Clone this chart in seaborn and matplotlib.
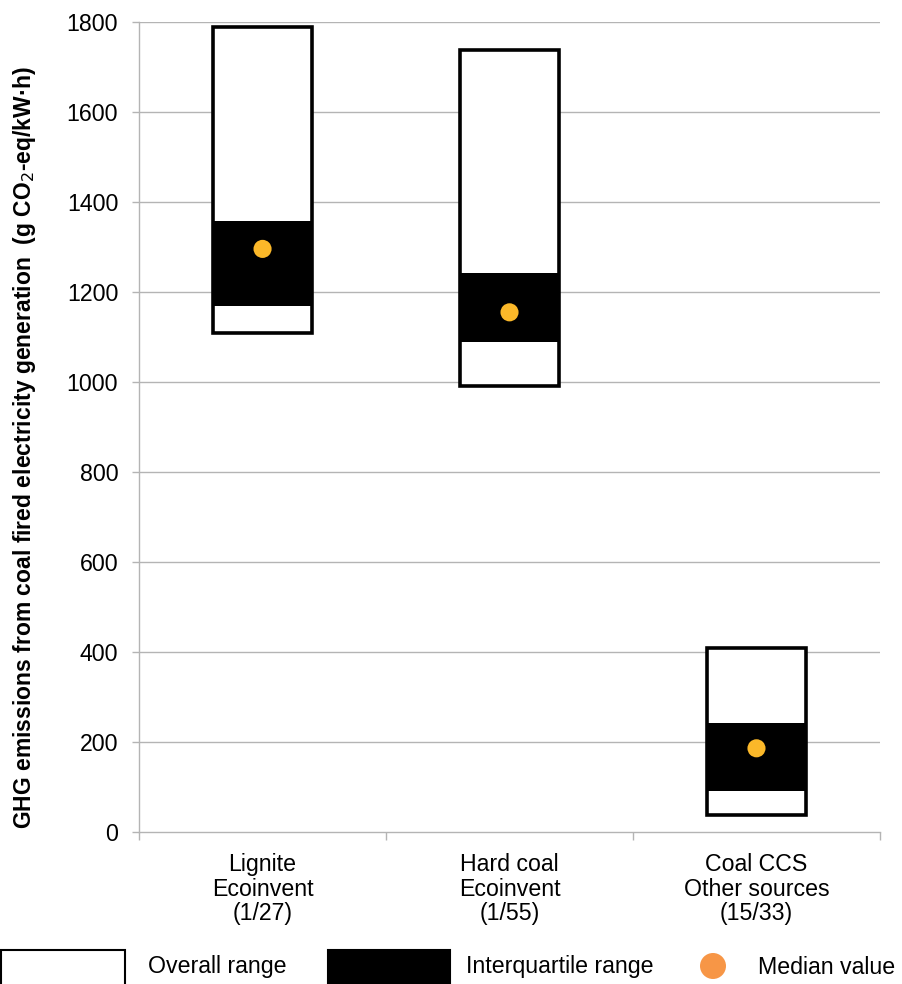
import matplotlib
matplotlib.use("Agg")
import matplotlib.pyplot as plt
import seaborn as sns
import pandas as pd
from matplotlib.patches import Rectangle, Ellipse

sns.set_style("white")
plt.rcParams['font.family'] = ['Liberation Sans', 'DejaVu Sans']
for k in ["text.color", "axes.labelcolor", "xtick.labelcolor", "ytick.labelcolor"]:
    plt.rcParams[k] = "black"

# data
categories = ["Lignite\nEcoinvent\n(1/27)", "Hard coal\nEcoinvent\n(1/55)", "Coal CCS\nOther sources\n(15/33)"]
overall_min = [1108, 992, 38]
overall_max = [1790, 1739, 410]
iqr_low = [1170, 1090, 90]
iqr_high = [1359, 1243, 242]
median = [1296, 1155, 186]

df = pd.DataFrame({"cat": categories, "lo": overall_min, "hi": overall_max,
                   "q1": iqr_low, "q3": iqr_high, "med": median})
x = list(range(len(categories)))

fs = 16.7
fig = plt.figure(figsize=(9.03, 9.84), dpi=100)
ax = fig.add_axes([0.154, 0.1545, 0.8205, 0.823])

grid_col = "#b4b4b4"
for v in range(200, 1801, 200):
    ax.axhline(v, color=grid_col, lw=1, zorder=0)

ax.bar(x, df["hi"] - df["lo"], bottom=df["lo"], width=0.4, color="white",
       edgecolor="black", linewidth=2.6, zorder=2)
ax.bar(x, df["q3"] - df["q1"], bottom=df["q1"], width=0.4, color="black",
       edgecolor="black", linewidth=0, zorder=3)
sns.scatterplot(x=x, y=df["med"], ax=ax, color="#fbb829", s=170,
                edgecolor="none", zorder=4)

ax.set_xlim(-0.5, 2.5)
ax.set_ylim(0, 1800)
ax.set_yticks(range(0, 1801, 200))
ax.tick_params(axis="y", labelsize=fs, length=5, width=1, color=grid_col, pad=10, left=True)

ax.set_xticks([-0.5, 0.5, 1.5, 2.5])
ax.set_xticklabels([])
ax.tick_params(axis="x", which="major", length=6, width=1, color=grid_col, bottom=True)
ax.set_xticks(x, minor=True)
ax.set_xticklabels(categories, minor=True, fontsize=fs, linespacing=1.1)
ax.tick_params(axis="x", which="minor", length=0, pad=15)

for s in ["top", "right"]:
    ax.spines[s].set_visible(False)
for s in ["left", "bottom"]:
    ax.spines[s].set_color(grid_col)
    ax.spines[s].set_linewidth(1)

ax.set_ylabel("GHG emissions from coal fired electricity generation  (g CO$_2$-eq/kW·h)",
              fontsize=16.5, fontweight="bold")
ax.yaxis.set_label_coords(-0.137, 0.475)

# legend row along the bottom edge
W, H = 903, 984
fig.add_artist(Rectangle((1 / W, (H - 1034) / H), 124 / W, 84 / H, transform=fig.transFigure,
                         facecolor="white", edgecolor="black", lw=1.5, clip_on=False))
fig.text(148 / W, 1 - 967 / H, "Overall range", fontsize=fs, va="center")
fig.add_artist(Rectangle((328 / W, (H - 1034) / H), 122 / W, 84 / H, transform=fig.transFigure,
                         facecolor="black", edgecolor="black", lw=1.5, clip_on=False))
fig.text(466 / W, 1 - 967 / H, "Interquartile range", fontsize=fs, va="center")
fig.add_artist(Ellipse((713 / W, 1 - 966 / H), 26 / W, 26 / H, transform=fig.transFigure,
                       facecolor="#f79646", edgecolor="none"))
fig.text(758 / W, 1 - 967 / H, "Median value", fontsize=fs, va="center")

fig.savefig("out.png", dpi=100)
